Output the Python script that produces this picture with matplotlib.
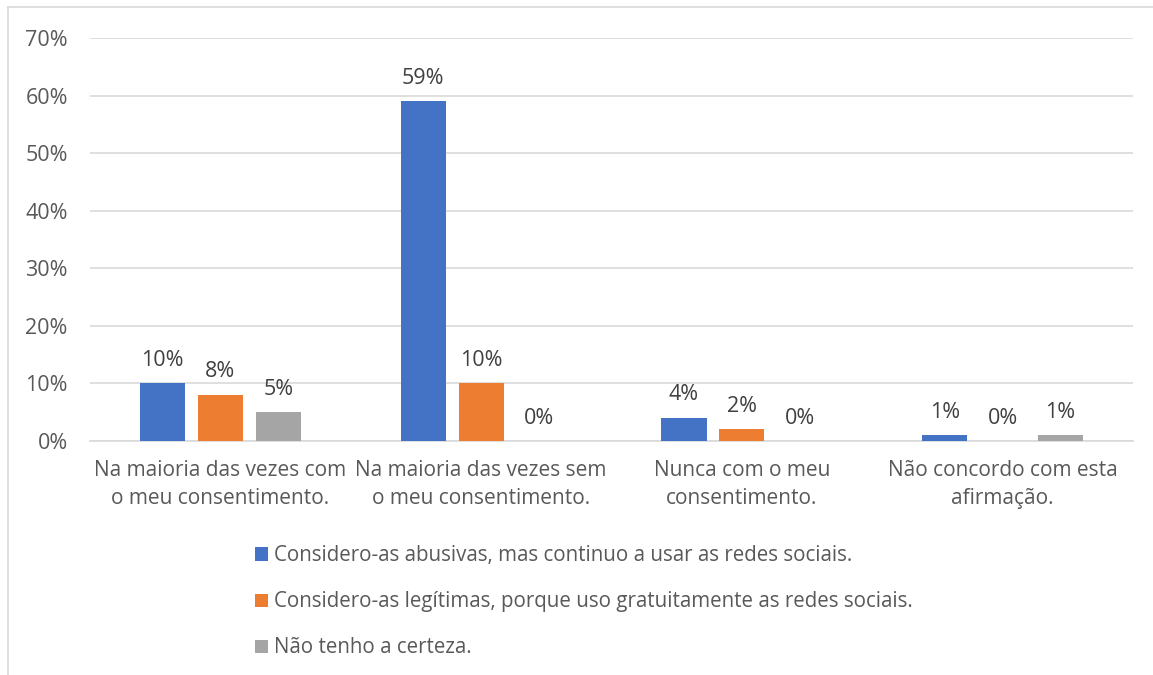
import matplotlib
matplotlib.use("Agg")
import matplotlib.pyplot as plt
from matplotlib.patches import Patch
import numpy as np

plt.rcParams['font.family'] = ['Open Sans', 'DejaVu Sans']

categories = [
    "Na maioria das vezes com\no meu consentimento.",
    "Na maioria das vezes sem\no meu consentimento.",
    "Nunca com o meu\nconsentimento.",
    "Não concordo com esta\nafirmação.",
]
series_names = [
    "Considero-as abusivas, mas continuo a usar as redes sociais.",
    "Considero-as legítimas, porque uso gratuitamente as redes sociais.",
    "Não tenho a certeza.",
]
abusivas = [10, 59, 4, 1]
legitimas = [8, 10, 2, 0]
incerto = [5, 0, 0, 1]
colors = ["#4472C4", "#ED7D31", "#A5A5A5"]
y_ticks = [0, 10, 20, 30, 40, 50, 60, 70]

W, H = 1153, 675
fig = plt.figure(figsize=(W / 100, H / 100), dpi=100)

# light frame around the chart area
fig.add_artist(plt.Line2D([8 / W, 8 / W], [0, 1 - 7 / H], color="#d9d9d9", lw=1.2))
fig.add_artist(plt.Line2D([8 / W, 1], [1 - 7 / H, 1 - 7 / H], color="#d9d9d9", lw=1.2))

ax = fig.add_axes([90 / W, 1 - 441 / H, (1133 - 90) / W, (441 - 38) / H])

x = np.arange(len(categories))
step = 0.222
width = 0.173
text_col = "#595959"
label_col = "#404040"

for i, (vals, col) in enumerate(zip([abusivas, legitimas, incerto], colors)):
    pos = x + (i - 1) * step
    ax.bar(pos, vals, width, color=col, zorder=3)
    for p, v in zip(pos, vals):
        ax.annotate(f"{v}%", (p, v), xytext=(0, 9), textcoords="offset points",
                    ha="center", va="bottom", fontsize=15.5, color=label_col)

ax.set_xlim(-0.5, len(categories) - 0.5)
ax.set_ylim(0, 70)
ax.set_yticks(y_ticks)
ax.set_yticklabels([f"{t}%" for t in y_ticks])
ax.set_xticks(x)
ax.set_xticklabels(categories, linespacing=1.4, fontsize=15)
ax.tick_params(axis="both", length=0, labelsize=15.5, colors=text_col)
ax.tick_params(axis="x", labelsize=15)
ax.tick_params(axis="y", pad=16)
ax.tick_params(axis="x", pad=14)
ax.grid(axis="y", color="#d9d9d9", lw=1.2, zorder=0)
for s in ["top", "right", "left"]:
    ax.spines[s].set_visible(False)
ax.spines["bottom"].set_color("#d9d9d9")
ax.spines["bottom"].set_linewidth(1.2)

handles = [Patch(facecolor=c, edgecolor="none") for c in colors]
fig.legend(handles, series_names, loc="upper left", bbox_to_anchor=(247 / W, 1 - 537 / H),
           frameon=False, fontsize=14.8, labelcolor=text_col, handlelength=0.6,
           handleheight=0.6, handletextpad=0.3, labelspacing=1.22, borderaxespad=0)

fig.savefig("out.png", dpi=100, facecolor="white")
